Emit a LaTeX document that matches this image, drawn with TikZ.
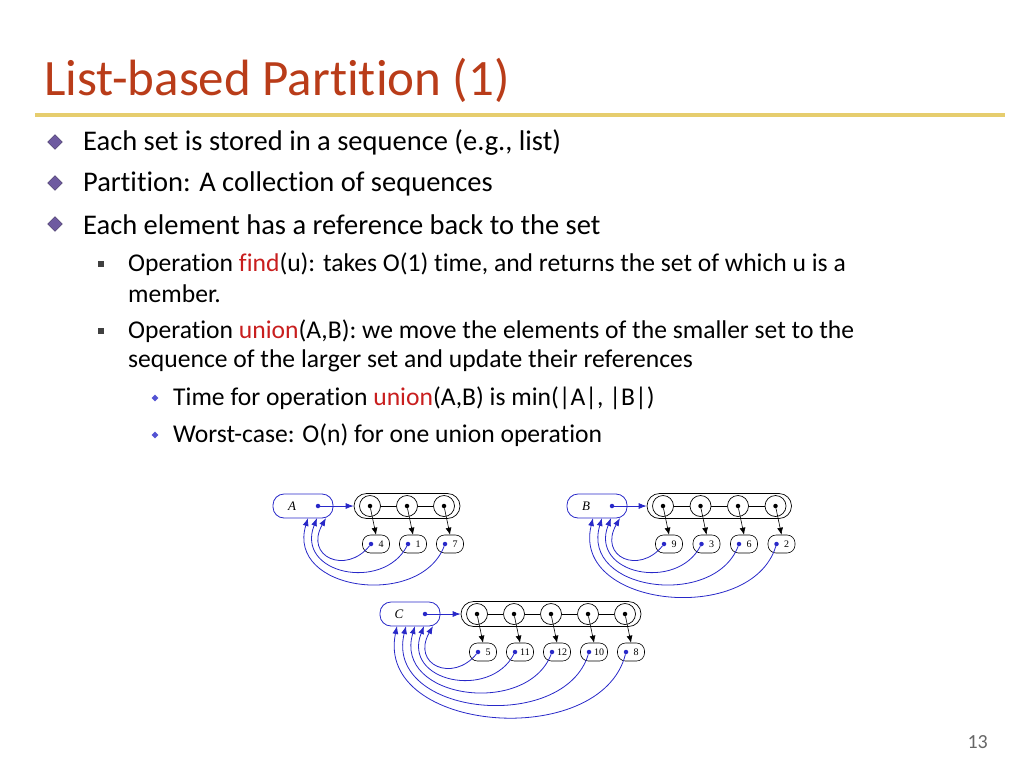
\documentclass[tikz,border=0pt]{standalone}
\usepackage{fontspec}
\setmainfont{Carlito}[Ligatures=NoCommon]
\newfontfamily\serifd{Liberation Serif}
\usetikzlibrary{shapes.geometric,arrows.meta,calc}
\definecolor{ttl}{RGB}{185,60,25}
\definecolor{gold}{RGB}{230,205,110}
\definecolor{kw}{RGB}{200,30,30}
\definecolor{bl}{RGB}{40,40,200}
\definecolor{dia}{RGB}{110,90,160}
% #1 name, #2 label, #3 box x, #4 y, #5 unused, #6 first circle x, #7 labels, #8 spacing
\newcommand{\drawset}[8]{%
  \node[setbox] (#1box) at (#3,#4) {\hspace*{-22pt}#2};
  \node[dt,bl] (#1bd) at (#3+15,#4) {};
  \foreach \lab [count=\i] in {#7} {
    \pgfmathsetmacro{\cx}{#6+(\i-1)*#8}
    \node[circ] (#1c\i) at (\cx,#4) {};
    \node[dt] (#1cd\i) at (\cx,#4) {};
    \node[elem] (#1e\i) at (\cx+6,#4+38) {\hspace*{10pt}\lab};
    \node[dt,bl] (#1ed\i) at (\cx+1,#4+38) {};
    \draw[ptr] (#1cd\i) -- (#1e\i.north);
    \xdef\nlast{\i}
  }
  \foreach \i in {2,...,\nlast} {\pgfmathtruncatemacro{\j}{\i-1}\draw[line width=0.6pt] (#1c\j) -- (#1c\i);}
  \node[cont,minimum width={(\nlast-1)*#8+32}] (#1cont) at ({#6+(\nlast-1)*#8/2},#4) {};
  \draw[bptr] (#1bd) -- (#1cont.west);
  \foreach \i in {1,...,\nlast} {
    \pgfmathsetmacro{\tx}{#3+32-\i*9}
    \pgfmathsetmacro{\dep}{14+\i*17}
    \coordinate (#1tg\i) at (\tx,#4+12);
    \draw[bptr] (#1ed\i) .. controls ($(#1ed\i)+(-25,\dep)$) and (\tx-22,#4+20+\dep) .. (#1tg\i);
  }
}
\begin{document}
\begin{tikzpicture}[x=1pt,y=-1pt,
  txt/.style={anchor=west,inner sep=0pt,font=\fontsize{28.5}{32}\selectfont},
  txt2/.style={anchor=west,inner sep=0pt,font=\fontsize{25.6}{29}\selectfont},
  bul/.style={diamond,fill=dia,draw=dia!60!black,inner sep=0pt,minimum size=15pt},
  sq/.style={rectangle,fill=black!75,inner sep=0pt,minimum size=6pt},
  bdia/.style={diamond,fill=bl!80,inner sep=0pt,minimum size=7pt},
  setbox/.style={draw=bl,rounded corners=11pt,minimum width=60pt,minimum height=24pt,font=\serifd\itshape\fontsize{13}{13}\selectfont,inner sep=0pt,line width=0.8pt},
  cont/.style={draw,rounded corners=12.5pt,minimum height=25pt,inner sep=0pt,line width=0.7pt},
  circ/.style={circle,draw,minimum size=21pt,inner sep=0pt,line width=0.7pt},
  elem/.style={draw,rounded corners=8pt,minimum width=27pt,minimum height=18pt,inner sep=0pt,font=\serifd\fontsize{10}{10}\selectfont,text depth=0pt,line width=0.6pt},
  dt/.style={circle,fill,inner sep=0pt,minimum size=4.5pt},
  ptr/.style={-{Latex[length=7pt,width=6pt]},line width=0.6pt},
  bptr/.style={-{Latex[length=8pt,width=6pt]},draw=bl,line width=0.8pt}
]
\useasboundingbox (0,0) rectangle (1024,768);
\node[anchor=west,inner sep=0pt,text=ttl,font=\fontsize{51}{55}\selectfont] (title) at (44,80) {List-based Partition (1)};
\draw[gold,line width=4pt] (35,115) -- (1005,115);
\node[bul] (b1) at (55,142) {}; \node[txt] (t1) at (83,143) {Each set is stored in a sequence (e.g., list)};
\node[bul] (b2) at (55,183) {}; \node[txt] (t2) at (83,184) {Partition: A collection of sequences};
\node[bul] (b3) at (55,224) {}; \node[txt] (t3) at (83,225) {Each element has a reference back to the set};
\node[sq] (s1) at (101,264) {}; \node[txt2] (u1) at (128,264) {Operation \textcolor{kw}{find}(u): takes O(1) time, and returns the set of which u is a};
\node[txt2] (u1b) at (128,294) {member.};
\node[sq] (s2) at (101,331) {}; \node[txt2] (u2) at (128,331) {Operation \textcolor{kw}{union}(A,B): we move the elements of the smaller set to the};
\node[txt2] (u2b) at (128,361) {sequence of the larger set and update their references};
\node[bdia] (d1) at (155,398) {}; \node[txt2] (v1) at (173,398) {Time for operation \textcolor{kw}{union}(A,B) is min(|A|, |B|)};
\node[bdia] (d2) at (155,435) {}; \node[txt2] (v2) at (173,435) {Worst-case: O(n) for one union operation};
\node[anchor=east,inner sep=0pt,text=black!60,font=\fontsize{20}{22}\selectfont] (pg) at (988,742) {13};
\drawset{a}{A}{303}{506}{}{370}{4,1,7}{37}
\drawset{b}{B}{597}{506}{}{663}{9,3,6,2}{37.5}
\drawset{c}{C}{410}{614}{}{477}{5,11,12,10,8}{37}
\end{tikzpicture}
\end{document}
